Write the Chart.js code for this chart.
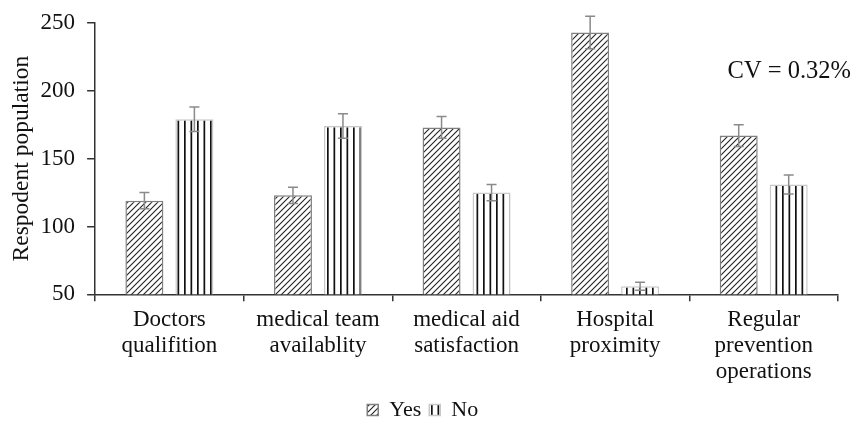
<!DOCTYPE html>
<html>
<head>
<meta charset="utf-8">
<script src="https://cdn.jsdelivr.net/npm/chart.js@4"></script>
<style>
  html, body { margin: 0; padding: 0; background: #fff; }
  #wrap { width: 859px; height: 436px; }
</style>
</head>
<body>
<div id="wrap"><canvas id="respChart" width="859" height="436"></canvas></div>
<script>
const categories = [
    ['Doctors', 'qualifition'],
    ['medical team', 'availablity'],
    ['medical aid', 'satisfaction'],
    ['Hospital', 'proximity'],
    ['Regular', 'prevention', 'operations']
];
const yesValues = [119, 123, 173, 243, 167];
const yesErrors = [6, 6, 8, 12, 8];
const noValues = [179, 174, 125, 56, 131];
const noErrors = [9, 9, 6, 3, 7];
const yTicks = [50, 100, 150, 200, 250];
const cvText = 'CV = 0.32%';

const FONT = "'Liberation Serif', 'Times New Roman', serif";

function makeHatch() {
    const c = document.createElement('canvas');
    c.width = 6; c.height = 6;
    const g = c.getContext('2d');
    g.fillStyle = '#fff';
    g.fillRect(0, 0, 6, 6);
    g.strokeStyle = '#222';
    g.lineWidth = 1.1;
    g.beginPath();
    g.moveTo(0, 6); g.lineTo(6, 0);
    g.moveTo(-1, 1); g.lineTo(1, -1);
    g.moveTo(5, 7); g.lineTo(7, 5);
    g.stroke();
    return g.createPattern(c, 'repeat');
}

function makeVertical() {
    const c = document.createElement('canvas');
    c.width = 13; c.height = 4;
    const g = c.getContext('2d');
    g.fillStyle = '#fff';
    g.fillRect(0, 0, 13, 4);
    g.fillStyle = '#111';
    g.fillRect(2, 0, 1.7, 4);
    g.fillRect(8.5, 0, 1.7, 4);
    return g.createPattern(c, 'repeat');
}

// error bars drawn on top of the bars, using the y scale
const errorBars = {
    id: 'errorBars',
    afterDatasetsDraw(chart) {
        const ctx = chart.ctx;
        const y = chart.scales.y;
        ctx.save();
        ctx.strokeStyle = '#8a8a8a';
        ctx.lineWidth = 1.5;
        chart.data.datasets.forEach((ds, di) => {
            const meta = chart.getDatasetMeta(di);
            meta.data.forEach((bar, i) => {
                const v = ds.data[i], e = ds.errors[i];
                const top = y.getPixelForValue(v + e);
                const bot = y.getPixelForValue(v - e);
                ctx.beginPath();
                ctx.moveTo(bar.x, top); ctx.lineTo(bar.x, bot);
                ctx.moveTo(bar.x - 5, top); ctx.lineTo(bar.x + 5, top);
                ctx.moveTo(bar.x - 5, bot); ctx.lineTo(bar.x + 5, bot);
                ctx.stroke();
            });
        });
        ctx.restore();
    }
};

const cvLabel = {
    id: 'cvLabel',
    afterDraw(chart) {
        const ctx = chart.ctx;
        const area = chart.chartArea;
        ctx.save();
        ctx.font = '24.5px ' + FONT;
        ctx.fillStyle = '#111';
        ctx.textAlign = 'right';
        ctx.textBaseline = 'middle';
        ctx.fillText(cvText, area.right + 13, chart.scales.y.getPixelForValue(214));
        ctx.restore();
    }
};

const ctx = document.getElementById('respChart').getContext('2d');
const respChart = new Chart(ctx, {
    type: 'bar',
    data: {
        labels: categories,
        datasets: [{
            label: 'Yes',
            data: yesValues,
            errors: yesErrors,
            backgroundColor: makeHatch(),
            borderColor: '#808080',
            borderWidth: 1.5,
            borderSkipped: false
        }, {
            label: 'No',
            data: noValues,
            errors: noErrors,
            backgroundColor: makeVertical(),
            borderColor: '#c8c8c8',
            borderWidth: 1.5,
            borderSkipped: false
        }]
    },
    options: {
        responsive: false,
        animation: false,
        categoryPercentage: 0.673,
        barPercentage: 0.76,
        layout: { padding: { left: 7.4, right: 21, top: -3, bottom: 5 } },
        plugins: {
            tooltip: { enabled: false },
            legend: {
                position: 'bottom',
                labels: {
                    boxWidth: 11,
                    boxHeight: 11,
                    padding: 8,
                    color: '#111',
                    font: { family: FONT, size: 22 }
                }
            }
        },
        scales: {
            y: {
                min: 50,
                max: 250,
                afterBuildTicks: axis => { axis.ticks = yTicks.map(v => ({ value: v })); },
                border: { color: '#333', width: 1.5 },
                grid: { drawOnChartArea: false, color: '#333', tickLength: 8, lineWidth: 1.5 },
                ticks: { padding: 12, color: '#111', font: { family: FONT, size: 23, lineHeight: 0.95 } },
                title: {
                    display: true,
                    text: 'Respodent population',
                    color: '#111',
                    padding: { top: 0, bottom: -7 },
                    font: { family: FONT, size: 23.5 }
                }
            },
            x: {
                border: { color: '#333', width: 1.5 },
                grid: { offset: true, drawOnChartArea: false, color: '#333', tickLength: 7, lineWidth: 1.5 },
                ticks: {
                    padding: 5.5,
                    color: '#111',
                    maxRotation: 0,
                    autoSkip: false,
                    font: { family: FONT, size: 23, lineHeight: 1.14 }
                }
            }
        }
    },
    plugins: [errorBars, cvLabel]
});
</script>
</body>
</html>
